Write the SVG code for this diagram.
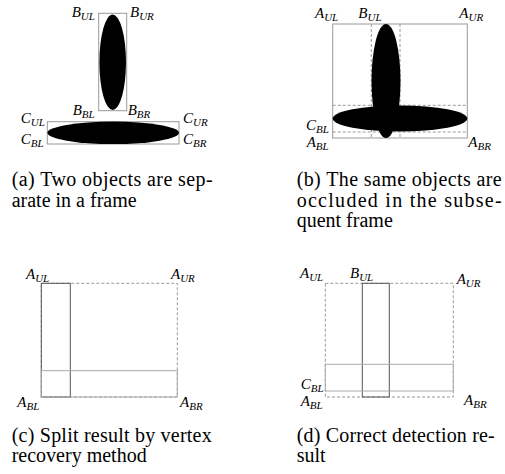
<svg xmlns="http://www.w3.org/2000/svg" width="505" height="474" viewBox="0 0 505 474" font-family="Liberation Serif, Times New Roman, DejaVu Serif, serif">
<style>
.lab{font-style:italic;font-size:15px;fill:#000}
.sub{font-size:11px}
.cap{font-size:20px;fill:#000}
.box{fill:none;stroke:#999;stroke-width:1}
.dash{fill:none;stroke:#999;stroke-width:1;stroke-dasharray:3,2}
.dark{fill:none;stroke:#555;stroke-width:1}
.light{fill:none;stroke:#aaa;stroke-width:1}
.blob{fill:#000}
</style>
<rect width="505" height="474" fill="#fff"/>

<!-- Panel (a) -->
<g id="panel-a">
  <g id="a-objB">
    <rect class="box" x="98.7" y="13.3" width="28" height="97.4"/>
    <ellipse class="blob" cx="112.7" cy="62.3" rx="13.3" ry="47.7"/>
  </g>
  <g id="a-objC">
    <rect class="box" x="47.3" y="121.7" width="131.7" height="22.3"/>
    <ellipse class="blob" cx="113.2" cy="132.8" rx="65.8" ry="11.2"/>
  </g>
  <text class="lab" x="71.7" y="16.7">B<tspan class="sub" dy="3">UL</tspan></text>
  <text class="lab" x="130" y="16.7">B<tspan class="sub" dy="3">UR</tspan></text>
  <text class="lab" x="72.7" y="115">B<tspan class="sub" dy="3">BL</tspan></text>
  <text class="lab" x="127.7" y="115">B<tspan class="sub" dy="3">BR</tspan></text>
  <text class="lab" x="20.7" y="123.3">C<tspan class="sub" dy="3">UL</tspan></text>
  <text class="lab" x="20.7" y="144.3">C<tspan class="sub" dy="3">BL</tspan></text>
  <text class="lab" x="183" y="123.3">C<tspan class="sub" dy="3">UR</tspan></text>
  <text class="lab" x="183" y="144.3">C<tspan class="sub" dy="3">BR</tspan></text>
  <text class="cap" x="11.7" y="186" textLength="201">(a) Two objects are sep-</text>
  <text class="cap" x="11.7" y="206.5">arate in a frame</text>
</g>

<!-- Panel (b) -->
<g id="panel-b">
  <g id="b-frame">
    <rect class="box" x="332.7" y="24" width="134.6" height="114"/>
    <line class="dash" x1="371.3" y1="24" x2="371.3" y2="138"/>
    <line class="dash" x1="400" y1="24" x2="400" y2="138"/>
    <line class="dash" x1="332.7" y1="105.3" x2="467.3" y2="105.3"/>
    <line class="dash" x1="332.7" y1="132" x2="467.3" y2="132"/>
  </g>
  <g id="b-blobs">
    <ellipse class="blob" cx="386" cy="81" rx="14.5" ry="57"/>
    <ellipse class="blob" cx="400" cy="118.5" rx="67.3" ry="13"/>
  </g>
  <text class="lab" x="315" y="18.3">A<tspan class="sub" dy="3">UL</tspan></text>
  <text class="lab" x="358.3" y="18.3">B<tspan class="sub" dy="3">UL</tspan></text>
  <text class="lab" x="459.3" y="18.3">A<tspan class="sub" dy="3">UR</tspan></text>
  <text class="lab" x="306" y="130">C<tspan class="sub" dy="3">BL</tspan></text>
  <text class="lab" x="306.7" y="146.7">A<tspan class="sub" dy="3">BL</tspan></text>
  <text class="lab" x="468.3" y="146.7">A<tspan class="sub" dy="3">BR</tspan></text>
  <text class="cap" x="296.7" y="186" textLength="205">(b) The same objects are</text>
  <text class="cap" x="296.7" y="206.5" textLength="205">occluded in the subse-</text>
  <text class="cap" x="296.7" y="227">quent frame</text>
</g>

<!-- Panel (c) -->
<g id="panel-c">
  <rect class="dash" x="41.3" y="283.3" width="136" height="113.7"/>
  <rect class="dark" x="41.3" y="283.3" width="29" height="113.7"/>
  <rect class="light" x="41.3" y="370.7" width="136" height="26.3"/>
  <text class="lab" x="26" y="279.3">A<tspan class="sub" dy="3">UL</tspan></text>
  <text class="lab" x="171" y="279.3">A<tspan class="sub" dy="3">UR</tspan></text>
  <text class="lab" x="17.3" y="406.7">A<tspan class="sub" dy="3">BL</tspan></text>
  <text class="lab" x="180" y="406.7">A<tspan class="sub" dy="3">BR</tspan></text>
  <text class="cap" x="11.7" y="441.7" textLength="200">(c) Split result by vertex</text>
  <text class="cap" x="11.7" y="461.7">recovery method</text>
</g>

<!-- Panel (d) -->
<g id="panel-d">
  <rect class="dash" x="325.3" y="283.3" width="128" height="113.7"/>
  <rect class="dark" x="362.3" y="283.3" width="27" height="113.7"/>
  <rect class="light" x="325.3" y="364.3" width="128" height="26.7"/>
  <text class="lab" x="300" y="278.3">A<tspan class="sub" dy="3">UL</tspan></text>
  <text class="lab" x="350" y="278.3">B<tspan class="sub" dy="3">UL</tspan></text>
  <text class="lab" x="456.7" y="283.5">A<tspan class="sub" dy="3">UR</tspan></text>
  <text class="lab" x="300.7" y="389">C<tspan class="sub" dy="3">BL</tspan></text>
  <text class="lab" x="300.7" y="405.7">A<tspan class="sub" dy="3">BL</tspan></text>
  <text class="lab" x="464" y="405">A<tspan class="sub" dy="3">BR</tspan></text>
  <text class="cap" x="296.7" y="441.7" textLength="198">(d) Correct detection re-</text>
  <text class="cap" x="296.7" y="461.7">sult</text>
</g>
</svg>
